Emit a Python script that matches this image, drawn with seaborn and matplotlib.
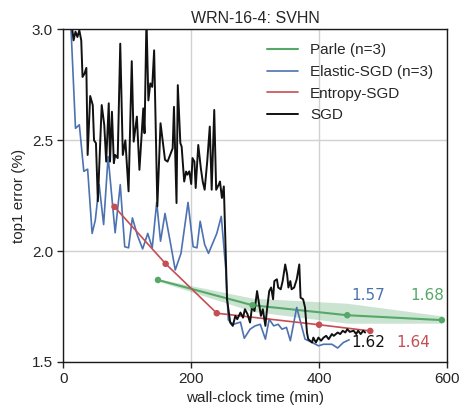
import numpy as np
import pandas as pd
import matplotlib
matplotlib.use("Agg")
import matplotlib.pyplot as plt
import seaborn as sns

# ---------------- data ----------------
sgd_t = [10, 16, 19, 22, 25, 28, 30, 33, 36, 38, 42, 46, 48, 51, 54, 60, 64, 67, 71, 73,
         76, 79, 81, 85, 89, 93, 97, 102, 107, 110, 115, 119, 125, 127, 130, 133, 136, 139,
         142, 147, 152, 157, 159, 163, 167, 171, 173, 177, 179, 183, 185, 189, 192, 194,
         197, 200, 202, 205, 207, 211, 215, 218, 221, 225, 229, 232, 236, 239, 243, 245,
         248, 251, 256, 261, 265, 269, 272, 277, 281, 284, 288, 292, 295, 299, 303, 305,
         309, 312, 316, 318, 322, 325, 328, 330, 334, 336, 340, 343, 347, 350, 352, 355,
         357, 361, 365, 369, 371, 375, 378, 381, 383, 389, 391, 395, 399, 403, 407, 411,
         415, 420, 423, 429, 433, 437, 441, 444, 448, 454, 458, 461, 465, 469, 472]
sgd_err = [3.10, 2.951, 2.99, 2.966, 2.996, 2.951, 2.786, 2.80, 2.827, 2.434, 2.70, 2.659,
           2.50, 2.487, 2.225, 2.659, 2.569, 2.404, 2.667, 2.404, 2.629, 2.397, 2.434, 2.42,
           2.936, 2.434, 2.50, 2.27, 2.857, 2.494, 2.607, 2.367, 2.644, 2.532, 3.05, 2.68,
           2.757, 2.741, 2.906, 2.202, 2.577, 2.457, 2.412, 2.404, 2.434, 2.464, 2.651,
           2.217, 2.749, 2.487, 2.472, 2.314, 2.359, 2.345, 2.36, 2.303, 2.42, 2.404, 2.285,
           2.479, 2.375, 2.314, 2.277, 2.404, 2.562, 2.277, 2.637, 2.277, 2.30, 2.314, 2.24,
           2.292, 1.783, 1.678, 1.663, 1.708, 1.693, 1.723, 1.70, 1.738, 1.716, 1.678, 1.746,
           1.73, 1.82, 1.783, 1.708, 1.738, 1.663, 1.723, 1.82, 1.836, 1.783, 1.865, 1.873,
           1.836, 1.828, 1.865, 1.94, 1.895, 1.836, 1.865, 1.828, 1.836, 1.873, 1.94, 1.79,
           1.783, 1.746, 1.633, 1.603, 1.588, 1.61, 1.588, 1.61, 1.596, 1.61, 1.618, 1.603,
           1.626, 1.618, 1.633, 1.626, 1.641, 1.633, 1.648, 1.636, 1.641, 1.626, 1.641,
           1.626, 1.641, 1.633]

esgd_t = [8, 19, 25, 32, 38, 45, 50, 56, 63, 70, 81, 89, 96, 102, 108, 116, 124, 132, 139,
          146, 152, 159, 167, 175, 184, 195, 203, 209, 214, 221, 227, 240, 247, 254, 258,
          261, 266, 277, 283, 292, 300, 308, 316, 322, 329, 336, 342, 349, 355, 365, 378,
          389, 399, 407, 420, 429, 438, 447]
esgd_err = [3.26, 2.554, 2.57, 2.36, 2.37, 2.08, 2.14, 2.30, 2.12, 2.427, 2.083, 2.30, 2.02,
            2.015, 2.15, 2.07, 2.01, 2.08, 2.015, 2.22, 2.045, 2.17, 2.045, 1.915, 1.99,
            2.22, 2.02, 2.015, 2.135, 2.03, 1.99, 2.08, 2.157, 1.92, 1.69, 1.68, 1.67, 1.68,
            1.607, 1.648, 1.663, 1.67, 1.603, 1.693, 1.663, 1.67, 1.648, 1.656, 1.596,
            1.746, 1.603, 1.588, 1.573, 1.58, 1.58, 1.563, 1.588, 1.60]

entropy_t = [80, 160, 240, 400, 480]
entropy_err = [2.20, 1.943, 1.72, 1.668, 1.64]

parle_t = [148, 296, 444, 592]
parle_err = [1.87, 1.756, 1.711, 1.689]
parle_lo = [1.865, 1.728, 1.675, 1.675]
parle_hi = [1.875, 1.788, 1.765, 1.708]

labels = ["Parle (n=3)", "Elastic-SGD (n=3)", "Entropy-SGD", "SGD"]
final_text = ["1.68", "1.57", "1.64", "1.62"]

# ---------------- style ----------------
sns.set_style("ticks", {"axes.grid": True, "grid.color": ".82",
                        "axes.edgecolor": ".1"})
plt.rcParams["font.family"] = ["Liberation Sans", "DejaVu Sans"]
plt.rcParams["font.size"] = 11

deep = sns.color_palette("deep")
c_blue, c_green, c_red = deep[0], deep[2], deep[3]
c_black = "#111111"

fig = plt.figure(figsize=(4.6, 4.05), dpi=100)
ax = fig.add_axes([0.1377, 0.1062, 0.8340, 0.8210])

sns.lineplot(x=parle_t, y=parle_err, ax=ax, color=c_green, lw=1.5, label=labels[0])
ax.fill_between(parle_t, parle_lo, parle_hi, color=c_green, alpha=0.3, lw=0)
sns.scatterplot(x=parle_t, y=parle_err, ax=ax, color=c_green, s=22, edgecolor="none",
                legend=False, zorder=4)

sns.lineplot(x=esgd_t, y=esgd_err, ax=ax, color=c_blue, lw=1.2, label=labels[1])

sns.lineplot(x=entropy_t, y=entropy_err, ax=ax, color=c_red, lw=1.2, label=labels[2])
sns.scatterplot(x=entropy_t, y=entropy_err, ax=ax, color=c_red, s=22, edgecolor="none",
                legend=False, zorder=4)

sns.lineplot(x=sgd_t, y=sgd_err, ax=ax, color=c_black, lw=1.4, label=labels[3])

ax.set_xlim(0, 600)
ax.set_ylim(1.5, 3.0)
ax.set_xticks([0, 200, 400, 600])
ax.set_yticks([1.5, 2.0, 2.5, 3.0])
ax.set_xlabel("wall-clock time (min)", fontsize=11, labelpad=3)
ax.set_ylabel("top1 error (%)", fontsize=11, labelpad=4)
ax.set_title("WRN-16-4: SVHN", fontsize=11.5, pad=5)
ax.tick_params(axis="both", labelsize=11, length=4, width=1, color=".15",
               top=False, right=False)
for s in ax.spines.values():
    s.set_visible(True)
    s.set_linewidth(1.0)
ax.grid(True, color=".82", lw=1)

ann_font = dict(family=["DejaVu Sans"], fontsize=11, ha="left", va="center")
ax.text(451, 1.80, final_text[1], color=c_blue, **ann_font)
ax.text(542, 1.80, final_text[0], color=c_green, **ann_font)
ax.text(451, 1.59, final_text[3], color=c_black, **ann_font)
ax.text(521, 1.59, final_text[2], color=c_red, **ann_font)

leg = ax.legend(loc="upper right", frameon=False, fontsize=11)

fig.savefig("out.png", dpi=100)
